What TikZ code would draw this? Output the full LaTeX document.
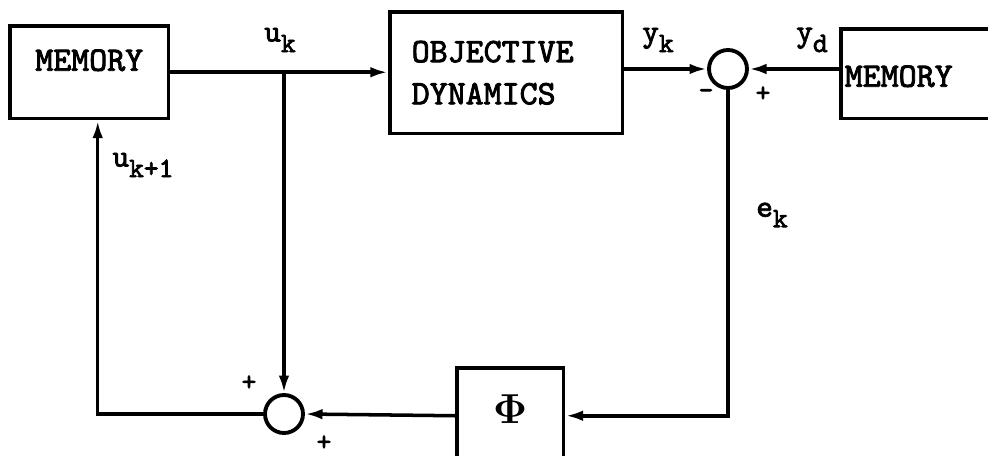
\documentclass[tikz,border=0pt]{standalone}
\usepackage[no-math]{fontspec}
\setmonofont{lmmono10-regular.otf}[FakeBold=2.5,AutoFakeBold=2.5]
\usepackage{tikz}
\usetikzlibrary{arrows.meta, positioning}
\newcommand{\sig}[2]{#1\raisebox{-6pt}{\fontsize{16}{16}\selectfont #2}}

\begin{document}
\begin{tikzpicture}[
    x=0.02cm, y=-0.02cm,
    font=\ttfamily\bfseries\fontsize{19.5}{24}\selectfont,
    block/.style={draw, line width=2pt, inner sep=0pt, align=left},
    sumnode/.style={draw, circle, line width=2.2pt, minimum size=0.76cm, inner sep=0pt},
    lbl/.style={font=\ttfamily\bfseries\fontsize{18}{18}\selectfont, inner sep=0pt},
    sign/.style={font=\ttfamily\bfseries\fontsize{16}{16}\selectfont, inner sep=0pt},
    arrow/.style={-{Latex[length=10pt, width=6pt]}, line width=2pt}
]
\useasboundingbox (0,0) rectangle (988,456);

\node[block, anchor=north west, minimum width=3.18cm, text height=0.9cm, text depth=0.96cm, align=center] (mem1) at (8,24) {MEMORY};
\node[block, anchor=north west, minimum height=2.44cm, text width=3.78cm, inner xsep=0.44cm] (obj) at (388,10) {OBJECTIVE\\DYNAMICS};
\node[sumnode] (sum1) at (728,69) {};
\node[block, anchor=north west, text width=3.9cm, inner xsep=0.08cm, text height=1.16cm, text depth=0.64cm] (mem2) at (839,27) {MEMORY};
\node[block, anchor=north west, minimum width=2.14cm, minimum height=1.92cm, align=center] (phi) at (455,366) {\raisebox{8pt}{\scalebox{1.15}{$\mathbf{\Phi}$}}};
\node[sumnode] (sum2) at (284,414) {};
\coordinate (split) at (sum2 |- mem1.east);

\draw[arrow] (mem1.east) -- (mem1.east -| obj.west);
\draw[arrow] (split) -- (sum2.north);
\draw[arrow] (obj.east |- sum1) -- (sum1.west);
\draw[arrow] (mem2.west |- sum1) -- (sum1.east);
\draw[arrow] (sum1.south) |- (phi.east);
\draw[arrow] (phi.west) -- (sum2.east);
\draw[arrow] (sum2.west) -| ([xshift=0.17cm]mem1.south);

% signals
\node[lbl] (uk) at (280,40) {\sig{u}{k}};
\node[lbl] (yk) at (658,40) {\sig{y}{k}};
\node[lbl] (yd) at (812,40) {\sig{y}{d}};
\node[lbl] (ek) at (772,215) {\sig{e}{k}};
\node[lbl] (uk1) at (143,165) {\sig{u}{k+1}};

% signs
\node[sign] (s1) at (706,94) {-};
\node[sign] (s2) at (763,94) {+};
\node[sign] (s3) at (249,383) {+};
\node[sign] (s4) at (324,443) {+};
\end{tikzpicture}
\end{document}
